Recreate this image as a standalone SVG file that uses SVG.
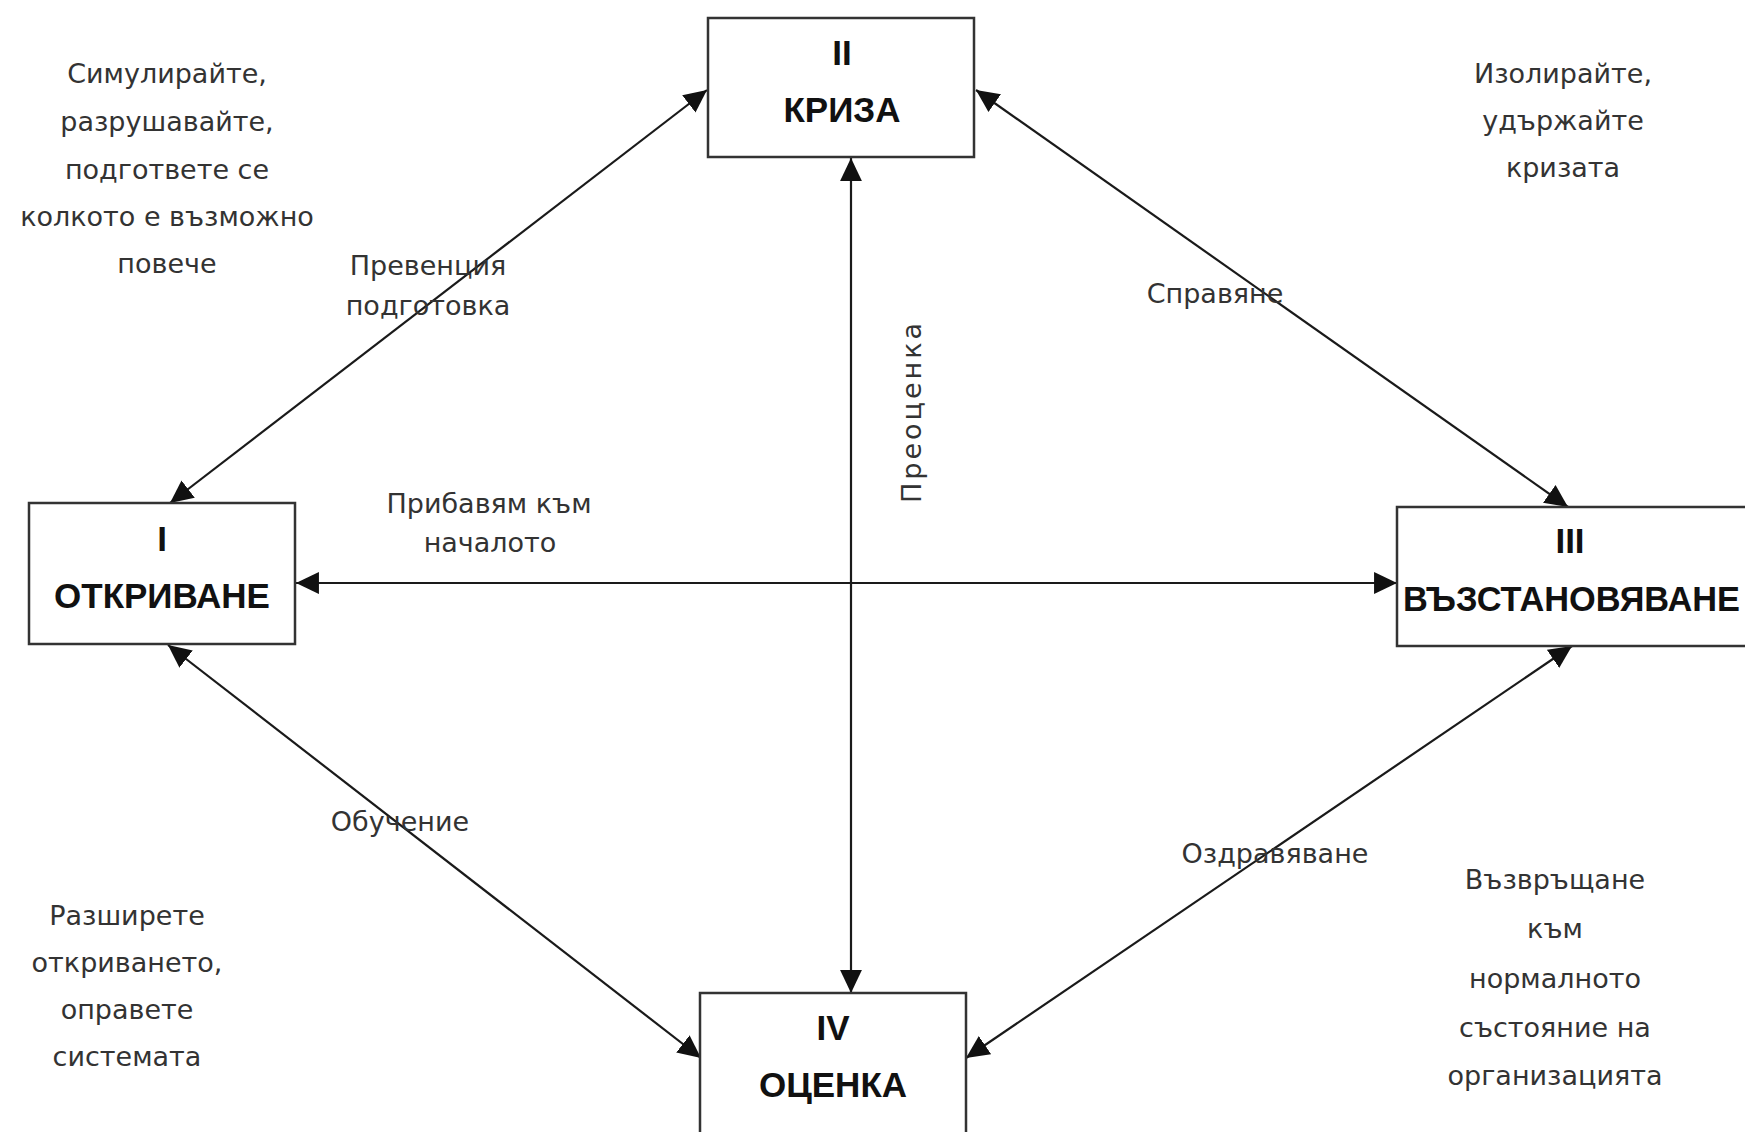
<svg xmlns="http://www.w3.org/2000/svg" width="1745" height="1132" viewBox="0 0 1745 1132">
<style>
.box{fill:#fff;stroke:#333;stroke-width:2.5}
.t{font-family:"Liberation Sans",Arial,sans-serif;font-weight:bold;font-size:35px;fill:#111;text-anchor:middle}
.l{font-family:"DejaVu Sans","Liberation Sans",sans-serif;font-size:27px;fill:#333;text-anchor:middle}
.c{stroke:#1a1a1a;stroke-width:2.2;fill:none;marker-start:url(#ah);marker-end:url(#ah)}
</style>
<defs>
<marker id="ah" markerUnits="userSpaceOnUse" markerWidth="24" markerHeight="24" viewBox="0 0 22 22" refX="21" refY="11" orient="auto-start-reverse">
<path d="M0,1 L21,11 L0,21 Z" fill="#111"/>
</marker>
</defs>
<rect width="1745" height="1132" fill="#fff"/>
<g id="connectors">
<line class="c" x1="707" y1="90" x2="170" y2="503"/>
<line class="c" x1="976" y1="90" x2="1568" y2="507"/>
<line class="c" x1="168" y1="645" x2="701" y2="1058"/>
<line class="c" x1="1572" y1="646" x2="966" y2="1058"/>
<line class="c" x1="851" y1="158" x2="851" y2="993"/>
<line class="c" x1="296" y1="583" x2="1397" y2="583"/>
</g>
<g id="node-crisis">
<rect class="box" x="708" y="18" width="266" height="139"/>
<text class="t" x="842" y="65">II</text>
<text class="t" x="842" y="122">КРИЗА</text>
</g>
<g id="node-discovery">
<rect class="box" x="29" y="503" width="266" height="141"/>
<text class="t" x="162" y="551">I</text>
<text class="t" x="162" y="608">ОТКРИВАНЕ</text>
</g>
<g id="node-recovery">
<rect class="box" x="1397" y="507" width="370" height="139"/>
<text class="t" x="1570" y="553">III</text>
<text class="t" x="1403" y="611" style="text-anchor:start" textLength="337" lengthAdjust="spacingAndGlyphs">ВЪЗСТАНОВЯВАНЕ</text>
</g>
<g id="node-evaluation">
<rect class="box" x="700" y="993" width="266" height="160"/>
<text class="t" x="833" y="1040">IV</text>
<text class="t" x="833" y="1097">ОЦЕНКА</text>
</g>
<g id="labels">
<text class="l" x="167" y="83">Симулирайте,</text>
<text class="l" x="167" y="131">разрушавайте,</text>
<text class="l" x="167" y="179">подгответе се</text>
<text class="l" x="167" y="226">колкото е възможно</text>
<text class="l" x="167" y="273">повече</text>
<text class="l" x="1563" y="83">Изолирайте,</text>
<text class="l" x="1563" y="130">удържайте</text>
<text class="l" x="1563" y="177">кризата</text>
<text class="l" x="127" y="925">Разширете</text>
<text class="l" x="127" y="972">откриването,</text>
<text class="l" x="127" y="1019">оправете</text>
<text class="l" x="127" y="1066">системата</text>
<text class="l" x="1555" y="889">Възвръщане</text>
<text class="l" x="1555" y="938">към</text>
<text class="l" x="1555" y="988">нормалното</text>
<text class="l" x="1555" y="1037">състояние на</text>
<text class="l" x="1555" y="1085">организацията</text>
<text class="l" x="428" y="275">Превенция</text>
<text class="l" x="428" y="315">подготовка</text>
<text class="l" x="1215" y="303">Справяне</text>
<text class="l" x="489" y="513">Прибавям към</text>
<text class="l" x="490" y="552">началото</text>
<text class="l" x="400" y="831">Обучение</text>
<text class="l" x="1275" y="863">Оздравяване</text>
<text class="l" transform="translate(921,413) rotate(-90)" x="0" y="0" textLength="180" lengthAdjust="spacing">Преоценка</text>
</g>
</svg>
